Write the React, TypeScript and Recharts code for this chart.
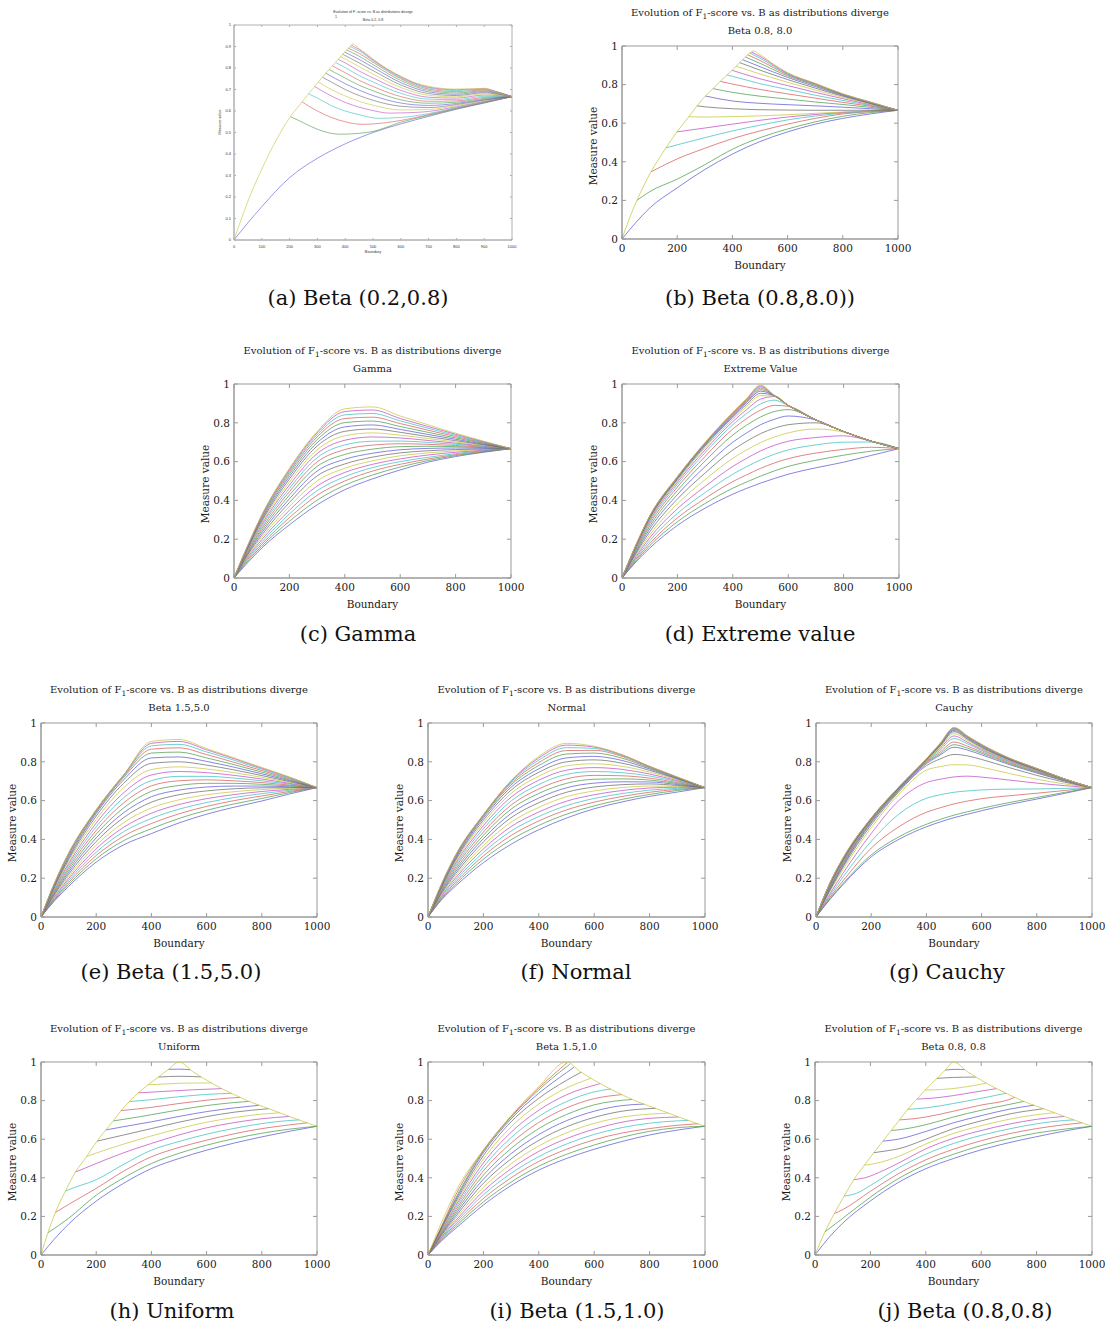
import React from 'react';
import { LineChart, Line, XAxis, YAxis, ReferenceArea, ReferenceLine } from 'recharts';

// ---------------- colours (MATLAB line cycle) ----------------
const LINE_COLORS = ['#5555d2', '#449a44', '#d65555', '#35bdbd', '#c046c0', '#c4c436', '#666666'];

// ---------------- tick labels ----------------
const X_TICKS_MAIN = [0, 200, 400, 600, 800, 1000];
const Y_TICKS_MAIN = [0, 0.2, 0.4, 0.6, 0.8, 1];
const X_TICKS_SMALL = [0, 100, 200, 300, 400, 500, 600, 700, 800, 900, 1000];
const Y_TICKS_SMALL = [0, 0.1, 0.2, 0.3, 0.4, 0.5, 0.6, 0.7, 0.8, 0.9, 1];

const TITLE_MAIN = 'Evolution of F';
const TITLE_REST = '-score vs. B as distributions diverge';
const SUBTITLES = ['Beta 0.2, 0.8', 'Beta 0.8, 8.0', 'Gamma', 'Extreme Value', 'Beta 1.5,5.0', 'Normal', 'Cauchy', 'Uniform', 'Beta 1.5,1.0', 'Beta 0.8, 0.8'];
const CAPTIONS = ['(a) Beta (0.2,0.8)', '(b) Beta (0.8,8.0))', '(c) Gamma', '(d) Extreme value', '(e) Beta (1.5,5.0)', '(f) Normal', '(g) Cauchy', '(h) Uniform', '(i) Beta (1.5,1.0)', '(j) Beta (0.8,0.8)'];

// ---------------- (a) Beta 0.2, 0.8 : [x, y] points per curve ----------------
const BETA_02_08: number[][][] = [
  [[0,0],[50,.08],[100,.155],[200,.29],[300,.38],[400,.447],[500,.5],[600,.54],[700,.575],[800,.608],[900,.637],[1000,.667]],
  [[203,.574],[250,.545],[300,.515],[380,.492],[450,.496],[500,.505],[600,.548],[700,.58],[800,.611],[900,.639],[1000,.667]],
  [[245,.642],[300,.6],[350,.57],[400,.55],[460,.538],[500,.54],[600,.556],[700,.583],[800,.613],[900,.64],[1000,.667]],
  [[268,.68],[300,.66],[350,.625],[400,.6],[450,.583],[520,.566],[600,.57],[700,.588],[800,.616],[900,.642],[1000,.667]],
  [[290,.714],[350,.67],[400,.64],[450,.618],[500,.602],[560,.59],[600,.591],[700,.598],[800,.62],[900,.645],[1000,.667]],
  [[303,.735],[350,.7],[400,.67],[450,.645],[500,.627],[600,.605],[700,.607],[800,.625],[900,.648],[1000,.667]],
  [[318,.757],[350,.735],[400,.7],[450,.672],[500,.65],[600,.622],[700,.616],[800,.63],[900,.651],[1000,.667]],
  [[330,.776],[400,.727],[450,.697],[500,.672],[600,.637],[700,.626],[800,.635],[900,.654],[1000,.667]],
  [[342,.793],[400,.753],[450,.72],[500,.694],[600,.652],[700,.636],[800,.641],[900,.658],[1000,.667]],
  [[354,.81],[400,.778],[450,.743],[500,.714],[600,.667],[700,.645],[800,.647],[900,.663],[1000,.667]],
  [[365,.826],[400,.802],[450,.765],[500,.735],[600,.682],[700,.655],[800,.653],[900,.668],[1000,.667]],
  [[375,.84],[400,.824],[450,.786],[500,.754],[600,.696],[700,.664],[800,.66],[900,.674],[1000,.667]],
  [[383,.852],[400,.842],[450,.806],[500,.772],[600,.709],[700,.673],[800,.666],[900,.68],[950,.675],[1000,.667]],
  [[391,.864],[450,.824],[500,.788],[600,.721],[700,.681],[800,.672],[900,.685],[950,.678],[1000,.667]],
  [[398,.874],[450,.84],[500,.803],[600,.732],[700,.689],[800,.678],[900,.69],[950,.681],[1000,.667]],
  [[405,.884],[450,.855],[500,.816],[600,.742],[700,.696],[800,.684],[900,.694],[950,.683],[1000,.667]],
  [[411,.892],[450,.868],[500,.827],[600,.75],[700,.702],[800,.69],[900,.698],[950,.685],[1000,.667]],
  [[417,.9],[450,.879],[500,.834],[600,.755],[700,.707],[800,.695],[900,.701],[950,.687],[1000,.667]],
  [[422,.906],[450,.886],[500,.838],[600,.759],[700,.711],[800,.699],[900,.704],[950,.688],[1000,.667]],
  [[0,0],[50,.18],[100,.33],[150,.46],[203,.574],[245,.642],[268,.68],[290,.714],[303,.735],[318,.757],[330,.776],[342,.793],[354,.81],[365,.826],[375,.84],[383,.852],[391,.864],[398,.874],[405,.884],[411,.892],[417,.9],[422,.906],[427,.912],[450,.89],[477,.866],[500,.842],[550,.797],[600,.762],[650,.732],[700,.715],[790,.702],[860,.703],[905,.706],[935,.69],[1000,.667]],
];

// ---------------- (b) Beta 0.8, 8.0 ----------------
const BETA_08_80: number[][][] = [
  [[0,0],[50,.085],[100,.16],[200,.265],[300,.36],[400,.44],[500,.505],[600,.555],[700,.595],[800,.625],[900,.648],[1000,.667]],
  [[54,.2],[100,.245],[200,.31],[300,.385],[400,.465],[500,.525],[600,.57],[700,.607],[800,.636],[900,.655],[1000,.667]],
  [[105,.348],[200,.415],[300,.47],[400,.52],[500,.56],[600,.595],[700,.625],[800,.648],[900,.66],[1000,.667]],
  [[159,.472],[200,.488],[300,.525],[400,.56],[500,.59],[600,.617],[700,.637],[800,.652],[900,.662],[1000,.667]],
  [[199,.555],[300,.575],[400,.595],[500,.615],[600,.632],[700,.645],[800,.656],[900,.663],[1000,.667]],
  [[242,.633],[300,.632],[400,.634],[500,.638],[600,.644],[700,.651],[800,.658],[900,.663],[1000,.667]],
  [[272,.69],[300,.685],[400,.675],[500,.67],[600,.668],[700,.667],[800,.667],[900,.667],[1000,.667]],
  [[302,.741],[400,.715],[500,.703],[600,.696],[700,.69],[800,.683],[900,.675],[1000,.667]],
  [[330,.779],[400,.76],[500,.74],[600,.725],[700,.71],[800,.697],[900,.682],[1000,.667]],
  [[356,.817],[400,.803],[500,.775],[600,.752],[700,.73],[800,.708],[900,.688],[1000,.667]],
  [[380,.85],[400,.843],[500,.805],[600,.775],[700,.745],[800,.718],[900,.692],[1000,.667]],
  [[399,.874],[500,.83],[600,.795],[700,.76],[800,.727],[900,.696],[1000,.667]],
  [[414,.895],[500,.855],[600,.812],[700,.772],[800,.734],[900,.699],[1000,.667]],
  [[426,.914],[500,.875],[600,.826],[700,.782],[800,.74],[900,.702],[1000,.667]],
  [[437,.929],[500,.893],[600,.837],[700,.79],[800,.744],[900,.704],[1000,.667]],
  [[447,.943],[500,.91],[600,.845],[700,.796],[800,.747],[900,.706],[1000,.667]],
  [[455,.955],[500,.925],[600,.851],[700,.8],[800,.749],[900,.707],[1000,.667]],
  [[463,.964],[500,.937],[600,.855],[700,.803],[800,.75],[900,.708],[1000,.667]],
  [[469,.969],[500,.946],[600,.858],[700,.805],[800,.751],[900,.709],[1000,.667]],
  [[0,0],[25,.1],[54,.2],[105,.348],[159,.472],[199,.555],[242,.633],[272,.69],[302,.741],[330,.779],[356,.817],[380,.85],[399,.874],[414,.895],[426,.914],[437,.929],[447,.943],[455,.955],[463,.964],[469,.969],[475,.974],[500,.955],[550,.905],[600,.862],[700,.807],[800,.752],[900,.71],[1000,.667]],
];

// ---------------- (c) Gamma : y at GRID_12 ----------------
const GRID_12 = [0, 50, 100, 200, 300, 400, 500, 600, 700, 800, 900, 1000];
const GAMMA: number[][] = [
  [0,.08,.154,.274,.377,.455,.511,.557,.597,.626,.648,.667],
  [0,.088,.164,.292,.401,.478,.531,.572,.605,.631,.65,.667],
  [0,.096,.174,.311,.426,.5,.551,.586,.613,.636,.653,.667],
  [0,.102,.185,.33,.45,.522,.569,.6,.622,.641,.656,.667],
  [0,.109,.197,.349,.474,.544,.586,.614,.634,.648,.659,.667],
  [0,.115,.209,.369,.5,.566,.604,.63,.645,.655,.662,.667],
  [0,.121,.221,.389,.526,.588,.623,.645,.656,.662,.665,.667],
  [0,.127,.233,.408,.551,.612,.643,.661,.668,.67,.669,.667],
  [0,.132,.244,.427,.575,.637,.664,.677,.679,.677,.672,.667],
  [0,.137,.255,.445,.598,.662,.685,.692,.689,.683,.675,.667],
  [0,.142,.265,.462,.62,.686,.705,.706,.699,.689,.678,.667],
  [0,.147,.275,.479,.641,.71,.727,.722,.709,.695,.681,.667],
  [0,.151,.284,.495,.661,.733,.748,.736,.719,.701,.684,.667],
  [0,.155,.292,.51,.68,.756,.768,.751,.729,.708,.687,.667],
  [0,.158,.3,.523,.697,.779,.789,.766,.74,.715,.69,.667],
  [0,.161,.307,.535,.713,.801,.809,.781,.751,.722,.694,.667],
  [0,.164,.313,.545,.727,.822,.829,.796,.762,.729,.697,.667],
  [0,.166,.318,.553,.738,.841,.848,.81,.772,.735,.7,.667],
  [0,.168,.322,.56,.748,.858,.866,.822,.781,.741,.703,.667],
  [0,.17,.325,.565,.755,.872,.882,.835,.79,.746,.706,.667],
];

// ---------------- (d) Extreme value : y at GRID_14 ----------------
const GRID_14 = [0, 50, 100, 200, 300, 400, 450, 500, 550, 600, 700, 800, 900, 1000];
const EXTREME: number[][] = [
  [0,.082,.154,.271,.36,.432,.462,.489,.513,.535,.568,.597,.632,.667],
  [0,.088,.166,.29,.384,.463,.495,.525,.552,.575,.607,.633,.654,.667],
  [0,.095,.178,.31,.41,.497,.532,.565,.593,.615,.644,.663,.674,.667],
  [0,.102,.192,.333,.44,.535,.574,.609,.638,.66,.686,.7,.701,.667],
  [0,.109,.207,.357,.472,.575,.617,.655,.684,.705,.724,.733,.705,.667],
  [0,.117,.222,.382,.507,.617,.66,.698,.727,.748,.768,.752,.705,.667],
  [0,.125,.238,.407,.541,.66,.705,.744,.772,.79,.8,.755,.705,.667],
  [0,.132,.253,.43,.574,.7,.748,.79,.818,.835,.814,.755,.705,.667],
  [0,.139,.266,.451,.603,.737,.788,.83,.858,.868,.815,.755,.705,.667],
  [0,.145,.278,.469,.627,.768,.822,.865,.89,.885,.815,.755,.705,.667],
  [0,.15,.288,.483,.646,.79,.848,.897,.917,.889,.815,.755,.705,.667],
  [0,.155,.296,.494,.66,.806,.868,.922,.935,.89,.815,.755,.705,.667],
  [0,.159,.302,.502,.672,.818,.884,.94,.939,.89,.815,.755,.705,.667],
  [0,.162,.307,.508,.68,.828,.895,.952,.94,.89,.815,.755,.705,.667],
  [0,.164,.311,.513,.686,.835,.904,.963,.94,.89,.815,.755,.705,.667],
  [0,.166,.314,.516,.69,.84,.91,.971,.94,.89,.815,.755,.705,.667],
  [0,.167,.316,.518,.693,.845,.915,.979,.94,.89,.815,.755,.705,.667],
  [0,.168,.318,.52,.695,.849,.919,.985,.94,.89,.815,.755,.705,.667],
  [0,.169,.319,.522,.697,.852,.922,.99,.94,.89,.815,.755,.705,.667],
  [0,.17,.32,.523,.699,.855,.926,.995,.94,.89,.815,.755,.705,.667],
];

// ---------------- (e) Beta 1.5, 5.0 : y at GRID_12 ----------------
const BETA_15_50: number[][] = [
  [0,.085,.158,.283,.372,.43,.485,.53,.566,.598,.634,.667],
  [0,.09,.168,.3,.394,.455,.508,.55,.583,.611,.641,.667],
  [0,.095,.178,.317,.417,.482,.532,.57,.6,.624,.647,.667],
  [0,.1,.188,.334,.44,.508,.556,.59,.616,.636,.653,.667],
  [0,.106,.198,.352,.463,.535,.58,.61,.631,.647,.658,.667],
  [0,.112,.209,.37,.487,.562,.604,.63,.646,.657,.663,.667],
  [0,.118,.22,.389,.513,.592,.63,.65,.661,.666,.667,.667],
  [0,.124,.231,.408,.538,.62,.654,.67,.675,.675,.671,.667],
  [0,.13,.242,.427,.563,.648,.678,.689,.689,.684,.676,.667],
  [0,.136,.253,.446,.589,.676,.702,.707,.702,.693,.68,.667],
  [0,.142,.264,.465,.615,.703,.725,.725,.716,.702,.685,.667],
  [0,.148,.275,.484,.641,.732,.75,.744,.73,.711,.689,.667],
  [0,.154,.286,.503,.667,.76,.774,.763,.744,.72,.694,.667],
  [0,.159,.296,.52,.69,.792,.8,.783,.758,.729,.698,.667],
  [0,.164,.305,.533,.708,.82,.825,.802,.772,.738,.703,.667],
  [0,.169,.313,.541,.72,.845,.85,.82,.785,.747,.707,.667],
  [0,.173,.32,.546,.727,.865,.872,.837,.797,.755,.712,.667],
  [0,.176,.325,.55,.731,.882,.89,.851,.808,.762,.716,.667],
  [0,.178,.328,.552,.733,.895,.905,.862,.816,.767,.72,.667],
  [0,.18,.33,.553,.734,.905,.915,.868,.82,.771,.722,.667],
];

// ---------------- (f) Normal : y at GRID_12 ----------------
const NORMAL: number[][] = [
  [0,.09,.16,.28,.375,.45,.51,.558,.593,.622,.644,.667],
  [0,.095,.17,.298,.398,.472,.53,.573,.606,.632,.652,.667],
  [0,.1,.18,.315,.42,.495,.552,.592,.621,.643,.658,.667],
  [0,.106,.191,.333,.443,.518,.574,.611,.636,.654,.663,.667],
  [0,.112,.202,.351,.466,.541,.597,.63,.652,.665,.669,.667],
  [0,.118,.213,.369,.489,.565,.62,.65,.667,.675,.673,.667],
  [0,.124,.224,.387,.512,.589,.643,.67,.682,.686,.678,.667],
  [0,.13,.235,.404,.534,.613,.666,.69,.697,.696,.683,.667],
  [0,.136,.246,.421,.556,.637,.689,.71,.712,.706,.688,.667],
  [0,.141,.257,.438,.577,.66,.712,.73,.728,.716,.693,.667],
  [0,.146,.267,.455,.598,.683,.735,.75,.744,.727,.698,.667],
  [0,.151,.277,.471,.618,.705,.757,.77,.761,.737,.703,.667],
  [0,.155,.286,.486,.637,.726,.779,.79,.777,.747,.707,.667],
  [0,.159,.294,.499,.654,.746,.8,.81,.793,.756,.711,.667],
  [0,.163,.301,.51,.669,.764,.82,.828,.807,.763,.714,.667],
  [0,.166,.307,.518,.681,.781,.84,.845,.819,.768,.717,.667],
  [0,.169,.312,.523,.69,.796,.858,.859,.828,.772,.719,.667],
  [0,.171,.316,.526,.697,.809,.873,.869,.833,.775,.72,.667],
  [0,.173,.319,.527,.701,.82,.886,.876,.836,.776,.721,.667],
  [0,.175,.322,.528,.703,.828,.895,.88,.837,.777,.722,.667],
];

// ---------------- (g) Cauchy : y at GRID_14 ----------------
const CAUCHY: number[][] = [
  [0,.09,.17,.31,.4,.465,.49,.512,.53,.548,.58,.608,.637,.667],
  [0,.093,.176,.32,.413,.478,.503,.525,.543,.56,.59,.616,.642,.667],
  [0,.1,.19,.355,.465,.54,.563,.583,.598,.61,.625,.638,.652,.667],
  [0,.108,.21,.39,.53,.612,.63,.643,.65,.655,.659,.66,.663,.667],
  [0,.118,.23,.43,.6,.693,.71,.722,.726,.721,.706,.69,.677,.667],
  [0,.13,.25,.46,.632,.757,.775,.785,.784,.772,.74,.71,.686,.667],
  [0,.137,.262,.475,.645,.78,.815,.838,.83,.812,.77,.73,.695,.667],
  [0,.142,.27,.485,.651,.79,.835,.875,.86,.836,.786,.742,.701,.667],
  [0,.146,.276,.49,.655,.796,.842,.888,.87,.844,.791,.746,.703,.667],
  [0,.15,.281,.494,.658,.8,.851,.902,.88,.851,.796,.75,.705,.667],
  [0,.154,.285,.497,.66,.803,.861,.92,.892,.858,.801,.753,.707,.667],
  [0,.158,.289,.5,.662,.806,.87,.933,.9,.864,.805,.756,.708,.667],
  [0,.162,.293,.502,.664,.808,.876,.945,.908,.869,.808,.758,.709,.667],
  [0,.165,.297,.504,.665,.81,.882,.955,.915,.874,.811,.76,.71,.667],
  [0,.168,.3,.506,.666,.811,.885,.961,.92,.878,.813,.762,.711,.667],
  [0,.17,.303,.507,.667,.812,.888,.966,.924,.882,.815,.763,.711,.667],
  [0,.172,.305,.508,.668,.813,.891,.97,.927,.885,.817,.764,.712,.667],
  [0,.173,.307,.509,.669,.814,.893,.973,.93,.887,.818,.765,.712,.667],
  [0,.174,.309,.51,.67,.815,.895,.975,.931,.889,.819,.766,.712,.667],
  [0,.175,.31,.51,.67,.816,.896,.977,.932,.89,.82,.766,.712,.667],
];

// ---------------- (h) Uniform ----------------
const UNIFORM: number[][][] = [
  [[0,0],[50,.085],[100,.16],[200,.279],[300,.372],[400,.448],[500,.5],[600,.543],[700,.58],[800,.612],[900,.641],[1000,.667]],
  [[25,.115],[100,.19],[200,.31],[300,.4],[400,.474],[500,.527],[600,.569],[700,.603],[800,.631],[900,.652],[1000,.667]],
  [[52,.22],[100,.262],[200,.345],[300,.435],[400,.509],[500,.557],[600,.595],[700,.628],[800,.655],[900,.674],[965,.685]],
  [[88,.33],[100,.338],[200,.39],[300,.47],[400,.543],[500,.588],[600,.626],[700,.656],[800,.681],[900,.697],[935,.7]],
  [[125,.43],[200,.474],[300,.53],[400,.578],[500,.622],[600,.659],[700,.686],[800,.706],[900,.718]],
  [[165,.51],[200,.528],[300,.575],[400,.617],[500,.655],[600,.688],[700,.712],[800,.73],[865,.737]],
  [[203,.59],[300,.622],[400,.655],[500,.688],[600,.717],[700,.74],[825,.758]],
  [[235,.648],[300,.665],[400,.69],[500,.718],[600,.743],[700,.762],[790,.776]],
  [[262,.695],[300,.703],[400,.727],[500,.752],[600,.774],[700,.79],[755,.796]],
  [[290,.748],[400,.765],[500,.785],[600,.802],[680,.813],[722,.817]],
  [[320,.795],[400,.805],[500,.82],[600,.832],[690,.838]],
  [[352,.84],[450,.848],[550,.856],[655,.862]],
  [[388,.882],[460,.887],[540,.891],[618,.891]],
  [[425,.922],[500,.926],[580,.923]],
  [[462,.962],[500,.963],[540,.96]],
  [[0,0],[25,.115],[52,.22],[88,.33],[125,.43],[165,.51],[203,.59],[235,.648],[262,.695],[290,.748],[320,.795],[352,.84],[388,.882],[425,.922],[462,.962],[500,1],[550,.95],[600,.906],[650,.866],[700,.831],[750,.798],[800,.771],[850,.745],[900,.718],[950,.692],[1000,.667]],
];

// ---------------- (i) Beta 1.5, 1.0 ----------------
const BETA_15_10: number[][][] = [
  [[0,0],[50,.075],[100,.138],[200,.259],[300,.36],[400,.44],[500,.5],[600,.548],[700,.588],[800,.622],[900,.647],[1000,.667]],
  [[0,0],[50,.08],[100,.148],[200,.275],[300,.378],[400,.46],[500,.522],[600,.57],[700,.61],[800,.641],[900,.66],[1000,.667]],
  [[0,0],[50,.085],[100,.158],[200,.293],[300,.4],[400,.485],[500,.548],[600,.597],[700,.632],[800,.655],[900,.672],[975,.68]],
  [[0,0],[50,.09],[100,.168],[200,.312],[300,.423],[400,.51],[500,.575],[600,.625],[700,.66],[800,.683],[900,.695],[940,.697]],
  [[0,0],[50,.095],[100,.178],[200,.331],[300,.447],[400,.537],[500,.603],[600,.652],[700,.688],[800,.708],[905,.715]],
  [[0,0],[50,.1],[100,.189],[200,.351],[300,.472],[400,.565],[500,.633],[600,.682],[700,.714],[800,.73],[868,.735]],
  [[0,0],[50,.105],[100,.2],[200,.372],[300,.498],[400,.594],[500,.664],[600,.713],[700,.745],[822,.76]],
  [[0,0],[50,.11],[100,.211],[200,.393],[300,.525],[400,.624],[500,.696],[600,.745],[700,.774],[780,.782]],
  [[0,0],[50,.115],[100,.222],[200,.414],[300,.552],[400,.655],[500,.728],[600,.778],[737,.806]],
  [[0,0],[50,.12],[100,.233],[200,.436],[300,.58],[400,.687],[500,.762],[600,.81],[700,.831]],
  [[0,0],[50,.125],[100,.244],[200,.457],[300,.608],[400,.718],[500,.795],[600,.845],[660,.86]],
  [[0,0],[50,.13],[100,.255],[200,.477],[300,.636],[400,.75],[500,.83],[622,.888]],
  [[0,0],[50,.135],[100,.265],[200,.497],[300,.664],[400,.782],[500,.865],[588,.916]],
  [[0,0],[50,.14],[100,.275],[200,.515],[300,.69],[400,.812],[500,.905],[553,.947]],
  [[0,0],[50,.145],[100,.285],[200,.53],[300,.705],[400,.838],[500,.945],[527,.973]],
  [[0,0],[50,.148],[100,.294],[200,.538],[300,.714],[400,.855],[500,.975],[512,.988]],
  [[0,0],[50,.152],[100,.31],[200,.542],[300,.718],[400,.865],[503,.997]],
  [[0,0],[50,.172],[100,.328],[200,.545],[300,.722],[400,.872],[500,1],[550,.95],[600,.906],[650,.866],[700,.831],[750,.798],[800,.771],[850,.745],[900,.718],[950,.692],[1000,.667]],
];

// ---------------- (j) Beta 0.8, 0.8 ----------------
const BETA_08_08: number[][][] = [
  [[0,0],[50,.09],[100,.165],[200,.28],[300,.375],[400,.447],[500,.5],[600,.545],[700,.582],[800,.613],[900,.642],[1000,.667]],
  [[36,.12],[100,.19],[200,.3],[300,.395],[400,.468],[500,.522],[600,.567],[700,.603],[800,.632],[900,.652],[1000,.667]],
  [[70,.215],[100,.235],[200,.33],[300,.42],[400,.493],[500,.548],[600,.592],[700,.628],[800,.655],[900,.675],[965,.685]],
  [[105,.305],[150,.32],[200,.36],[300,.45],[400,.522],[500,.578],[600,.62],[700,.653],[800,.68],[900,.697],[935,.7]],
  [[140,.39],[180,.4],[250,.44],[300,.475],[400,.55],[500,.605],[600,.645],[700,.678],[800,.703],[900,.718]],
  [[178,.465],[220,.475],[300,.51],[400,.575],[500,.63],[600,.67],[700,.703],[800,.727],[865,.737]],
  [[212,.53],[260,.54],[300,.55],[400,.6],[500,.655],[600,.695],[700,.73],[825,.758]],
  [[245,.59],[300,.6],[400,.64],[500,.685],[600,.722],[700,.755],[790,.776]],
  [[275,.645],[320,.652],[400,.675],[500,.715],[600,.75],[700,.78],[755,.796]],
  [[305,.7],[350,.705],[400,.715],[500,.745],[600,.777],[700,.805],[722,.817]],
  [[335,.755],[400,.762],[500,.785],[600,.812],[690,.838]],
  [[368,.808],[420,.812],[500,.826],[580,.845],[655,.862]],
  [[398,.855],[450,.857],[530,.868],[618,.89]],
  [[440,.915],[500,.92],[580,.922]],
  [[470,.958],[510,.962],[540,.96]],
  [[0,0],[36,.12],[70,.215],[105,.305],[140,.39],[178,.465],[212,.53],[245,.59],[275,.645],[305,.7],[335,.755],[368,.808],[398,.855],[440,.915],[470,.958],[500,1],[550,.95],[600,.906],[650,.866],[700,.831],[750,.798],[800,.771],[850,.745],[900,.718],[950,.692],[1000,.667]],
];

// ---------------- helpers ----------------
type Pt = { x: number; y: number };
const fromPairs = (rows: number[][][]): Pt[][] => rows.map(r => r.map(([x, y]) => ({ x, y })));
const fromGrid = (xs: number[], rows: number[][]): Pt[][] => rows.map(r => r.map((y, i) => ({ x: xs[i], y })));

const SERIF = '"DejaVu Serif", serif';
const SANS = '"Liberation Sans", Arial, sans-serif';

type PanelCfg = { l: number; t: number; w: number; h: number; small?: boolean; curves: Pt[][]; idx: number; capX: number; capY: number };

const PANELS: PanelCfg[] = [
  { l: 234, t: 25, w: 278, h: 215, small: true, curves: fromPairs(BETA_02_08), idx: 0, capX: 358, capY: 298 },
  { l: 622, t: 46, w: 276, h: 193, curves: fromPairs(BETA_08_80), idx: 1, capX: 760, capY: 298 },
  { l: 234, t: 384, w: 277, h: 194, curves: fromGrid(GRID_12, GAMMA), idx: 2, capX: 358, capY: 634 },
  { l: 622, t: 384, w: 277, h: 194, curves: fromGrid(GRID_14, EXTREME), idx: 3, capX: 760, capY: 634 },
  { l: 41, t: 723, w: 276, h: 194, curves: fromGrid(GRID_12, BETA_15_50), idx: 4, capX: 171, capY: 972 },
  { l: 428, t: 723, w: 277, h: 194, curves: fromGrid(GRID_12, NORMAL), idx: 5, capX: 576, capY: 972 },
  { l: 816, t: 723, w: 276, h: 194, curves: fromGrid(GRID_14, CAUCHY), idx: 6, capX: 947, capY: 972 },
  { l: 41, t: 1062, w: 276, h: 193, curves: fromPairs(UNIFORM), idx: 7, capX: 172, capY: 1311 },
  { l: 428, t: 1062, w: 277, h: 193, curves: fromPairs(BETA_15_10), idx: 8, capX: 577, capY: 1311 },
  { l: 815, t: 1062, w: 277, h: 193, curves: fromPairs(BETA_08_08), idx: 9, capX: 965, capY: 1311 },
];

const Txt = ({ x, y, size, family, children, rotate, color = '#1a1a1a' }: any) => (
  <div
    style={{
      position: 'absolute', left: x, top: y, fontSize: size, fontFamily: family, color,
      lineHeight: 1, whiteSpace: 'nowrap',
      transform: `translate(-50%, -50%)${rotate ? ` rotate(${rotate}deg)` : ''}`,
    }}
  >
    {children}
  </div>
);

const fmtY = (v: number) => (v === 0 ? '0' : v === 1 ? '1' : v.toFixed(1));

function Panel({ cfg }: { cfg: PanelCfg }) {
  const { l, t, w, h, small, curves, idx } = cfg;
  const ML = 40, MT = 8, MR = 16, MB = 32;
  const ts = small ? -2 : -4;
  const tickLen = small ? 2 : 4;
  const tickStyle = small
    ? { fontSize: 4, fontFamily: SANS, fill: '#333' }
    : { fontSize: 10.5, fontFamily: SERIF, fill: '#1a1a1a' };
  const axisStroke = small ? '#b0b0b0' : '#9a9a9a';
  const xTicks = small ? X_TICKS_SMALL : X_TICKS_MAIN;
  const yTicks = small ? Y_TICKS_SMALL : Y_TICKS_MAIN;
  const n = curves.length;
  const cx = l + w / 2;
  const dy = tickLen / h;
  const dx = (tickLen / w) * 1000;
  return (
    <>
      <div style={{ position: 'absolute', left: l - ML, top: t - MT }}>
        <LineChart width={w + ML + MR} height={h + MT + MB} margin={{ top: MT, right: MR, bottom: 0, left: 0 }}
          style={{ overflow: 'visible' }}>
          <XAxis xAxisId="b" orientation="bottom" type="number" dataKey="x" domain={[0, 1000]} ticks={xTicks}
            height={MB} tickSize={ts} tickMargin={small ? 7 : 10} tick={tickStyle} interval={0}
            axisLine={{ stroke: axisStroke }} tickLine={{ stroke: axisStroke }} allowDataOverflow />
          <YAxis yAxisId="l" orientation="left" type="number" domain={[0, 1]} ticks={yTicks} width={ML}
            tickSize={ts} tickMargin={small ? 5 : 8} tick={tickStyle} tickFormatter={fmtY} interval={0}
            axisLine={{ stroke: axisStroke }} tickLine={{ stroke: axisStroke }} allowDataOverflow />
          <ReferenceArea xAxisId="b" yAxisId="l" x1={0} x2={1000} y1={0} y2={1} fill="none" fillOpacity={0}
            stroke={axisStroke} strokeWidth={1} ifOverflow="visible" />
          {xTicks.map(v => (
            <ReferenceLine key={'tx' + v} xAxisId="b" yAxisId="l" segment={[{ x: v, y: 1 }, { x: v, y: 1 - dy }]}
              stroke={axisStroke} ifOverflow="visible" />
          ))}
          {yTicks.map(v => (
            <ReferenceLine key={'ty' + v} xAxisId="b" yAxisId="l" segment={[{ x: 1000, y: v }, { x: 1000 - dx, y: v }]}
              stroke={axisStroke} ifOverflow="visible" />
          ))}
          {curves.map((c, i) => (
            <Line key={i} xAxisId="b" yAxisId="l" data={c} dataKey="y" type="monotone" dot={false}
              isAnimationActive={false} stroke={i === n - 1 ? LINE_COLORS[5] : LINE_COLORS[i % 7]}
              strokeWidth={small ? 0.7 : 0.85} strokeOpacity={0.85} />
          ))}
        </LineChart>
      </div>
      {small ? (
        <>
          <Txt x={cx} y={13} size={3.6} family={SANS} color="#333">{TITLE_MAIN + ' ' + TITLE_REST}</Txt>
          <Txt x={336} y={17.5} size={3.6} family={SANS} color="#333">1</Txt>
          <Txt x={cx} y={21} size={3.6} family={SANS} color="#333">{SUBTITLES[idx]}</Txt>
          <Txt x={220.5} y={122} size={3.8} family={SANS} color="#333" rotate={-90}>Measure value</Txt>
          <Txt x={cx} y={252.5} size={3.8} family={SANS} color="#333">Boundary</Txt>
        </>
      ) : (
        <>
          <Txt x={cx} y={t - 33} size={10} family={SERIF}>
            {TITLE_MAIN}
            <span style={{ fontSize: 7.5, position: 'relative', top: 3 }}>1</span>
            {TITLE_REST}
          </Txt>
          <Txt x={cx} y={t - 15} size={10} family={SERIF}>{SUBTITLES[idx]}</Txt>
          <Txt x={l - 29} y={t + h / 2 + 3} size={10.5} family={SERIF} rotate={-90}>Measure value</Txt>
          <Txt x={cx} y={t + h + 26} size={10.5} family={SERIF}>Boundary</Txt>
        </>
      )}
      <Txt x={cfg.capX} y={cfg.capY} size={21} family={SERIF} color="#111">{CAPTIONS[idx]}</Txt>
    </>
  );
}

export default function App() {
  return (
    <div style={{ position: 'relative', width: 1111, height: 1332, background: '#fff' }}>
      <style>{'html,body{margin:0;padding:0;}'}</style>
      {PANELS.map((p, i) => <Panel key={i} cfg={p} />)}
    </div>
  );
}
